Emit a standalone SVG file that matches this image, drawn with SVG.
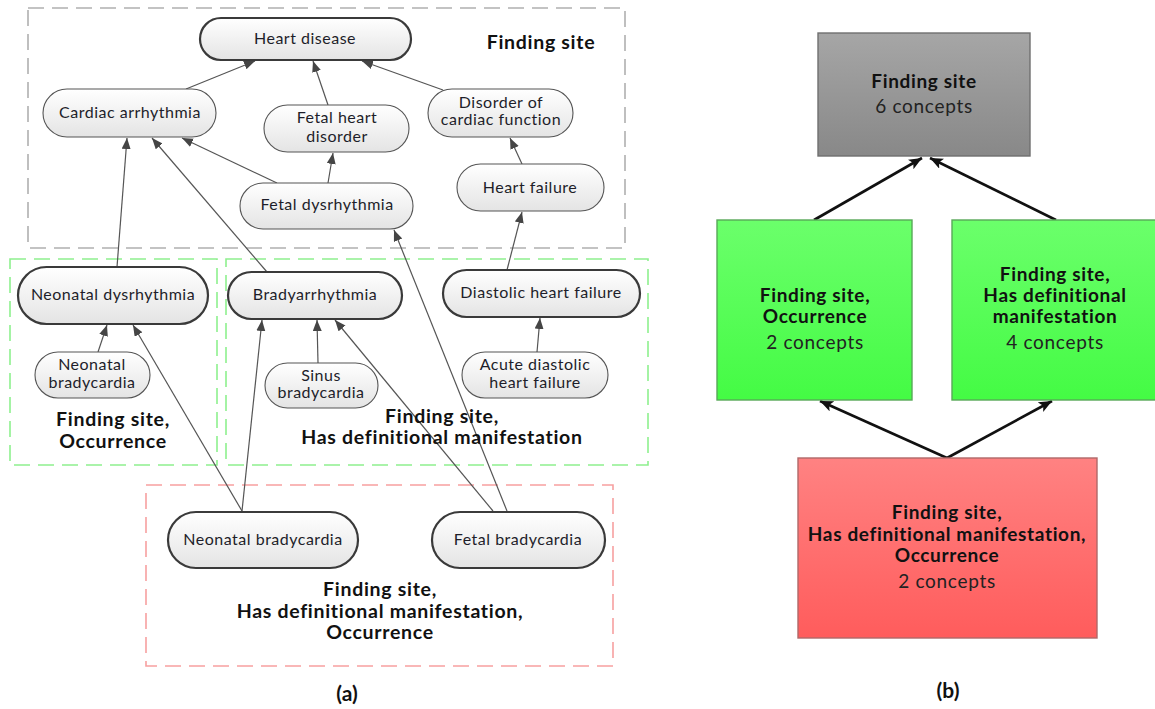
<svg xmlns="http://www.w3.org/2000/svg" width="1155" height="709" viewBox="0 0 1155 709">
  <defs>
    <linearGradient id="nodeFill" x1="0" y1="0" x2="0" y2="1">
      <stop offset="0" stop-color="#ffffff"/>
      <stop offset="1" stop-color="#e4e4e4"/>
    </linearGradient>
    <linearGradient id="grayFill" x1="0" y1="0" x2="0" y2="1">
      <stop offset="0" stop-color="#a6a6a6"/>
      <stop offset="1" stop-color="#888888"/>
    </linearGradient>
    <linearGradient id="greenFill" x1="0" y1="0" x2="0" y2="1">
      <stop offset="0" stop-color="#6bff6b"/>
      <stop offset="1" stop-color="#44fb44"/>
    </linearGradient>
    <linearGradient id="redFill" x1="0" y1="0" x2="0" y2="1">
      <stop offset="0" stop-color="#ff8282"/>
      <stop offset="1" stop-color="#ff5c5c"/>
    </linearGradient>
    <marker id="arrA" markerUnits="userSpaceOnUse" markerWidth="12" markerHeight="10" refX="11" refY="4.5" orient="auto">
      <path d="M0,0 L11,4.5 L0,9 z" fill="#454545"/>
    </marker>
    <marker id="arrB" markerUnits="userSpaceOnUse" markerWidth="14" markerHeight="12" refX="13" refY="5.5" orient="auto">
      <path d="M0,0 L13,5.5 L0,11 L3,5.5 z" fill="#111111"/>
    </marker>
    <style>
      .grp { fill: none; stroke-width: 1.6; stroke-dasharray: 16 8; }
      .gray { stroke: #b0b0b0; }
      .green { stroke: #8ef08e; }
      .red { stroke: #f7a0a0; }
      .node { fill: url(#nodeFill); stroke: #555555; stroke-width: 1.1; }
      .node.main { stroke: #3a3a3a; stroke-width: 2.2; }
      .lbl { font-family: Lato, "Liberation Sans", sans-serif; font-size: 16px; fill: #1e1e2a; text-anchor: middle; letter-spacing: 0.5px; }
      .grpTitle { font-family: Lato, "Liberation Sans", sans-serif; font-size: 19.5px; font-weight: bold; fill: #111111; text-anchor: middle; letter-spacing: 0.7px; }
      .edgeA { stroke: #555555; stroke-width: 1.2; fill: none; marker-end: url(#arrA); }
      .edgeB { stroke: #111111; stroke-width: 2.6; fill: none; marker-end: url(#arrB); }
      .box { stroke-width: 1.4; }
      .boxBold { font-family: Lato, "Liberation Sans", sans-serif; font-size: 19px; font-weight: bold; fill: #111111; text-anchor: middle; letter-spacing: 0.65px; }
      .boxNorm { font-family: Lato, "Liberation Sans", sans-serif; font-size: 19px; fill: #222222; text-anchor: middle; letter-spacing: 0.7px; }
      .caption { font-family: Lato, "Liberation Sans", sans-serif; font-size: 21px; font-weight: bold; fill: #111111; text-anchor: middle; }
    </style>
  </defs>

  <rect width="1155" height="709" fill="#ffffff"/>

  <!-- (a) group frames -->
  <g id="frames">
    <rect class="grp gray" x="28" y="8" width="597" height="240"/>
    <rect class="grp green" x="10" y="259" width="207" height="206"/>
    <rect class="grp green" x="226" y="259" width="422" height="206"/>
    <rect class="grp red" x="146" y="485" width="467" height="181"/>
  </g>

  <!-- (a) connectors -->
  <g id="connectors-a">
    <line class="edgeA" x1="186" y1="89" x2="255" y2="61"/>
    <line class="edgeA" x1="328" y1="105" x2="313" y2="61"/>
    <line class="edgeA" x1="443" y1="90" x2="362" y2="61"/>
    <line class="edgeA" x1="328" y1="183" x2="333" y2="153"/>
    <line class="edgeA" x1="277" y1="183" x2="182" y2="138"/>
    <line class="edgeA" x1="522" y1="164" x2="510" y2="138"/>
    <line class="edgeA" x1="507" y1="270" x2="522" y2="212"/>
    <line class="edgeA" x1="117" y1="267" x2="127" y2="138"/>
    <line class="edgeA" x1="267" y1="272" x2="152" y2="138"/>
    <line class="edgeA" x1="507" y1="511" x2="394" y2="230"/>
    <line class="edgeA" x1="98" y1="352" x2="107" y2="325"/>
    <line class="edgeA" x1="242" y1="511" x2="133" y2="325"/>
    <line class="edgeA" x1="242" y1="511" x2="262" y2="320"/>
    <line class="edgeA" x1="318" y1="363" x2="317" y2="320"/>
    <line class="edgeA" x1="493" y1="511" x2="335" y2="320"/>
    <line class="edgeA" x1="537" y1="352" x2="540" y2="318"/>
  </g>

  <!-- (a) nodes -->
  <g id="heart-disease">
    <rect class="node main" x="200" y="18" width="211" height="42" rx="21"/>
    <text class="lbl" x="305" y="44">Heart disease</text>
  </g>
  <g id="cardiac-arrhythmia">
    <rect class="node" x="43" y="89" width="173" height="48" rx="24"/>
    <text class="lbl" x="130" y="118">Cardiac arrhythmia</text>
  </g>
  <g id="fetal-heart-disorder">
    <rect class="node" x="264" y="105" width="145" height="47" rx="23.5"/>
    <text class="lbl" x="337" y="123">Fetal heart</text>
    <text class="lbl" x="337" y="142">disorder</text>
  </g>
  <g id="disorder-cardiac-function">
    <rect class="node" x="428" y="89" width="145" height="48" rx="24"/>
    <text class="lbl" x="501" y="108">Disorder of</text>
    <text class="lbl" x="501" y="125">cardiac function</text>
  </g>
  <g id="heart-failure">
    <rect class="node" x="457" y="164" width="147" height="47" rx="23.5"/>
    <text class="lbl" x="530" y="193">Heart failure</text>
  </g>
  <g id="fetal-dysrhythmia">
    <rect class="node" x="240" y="183" width="173" height="46" rx="23"/>
    <text class="lbl" x="327" y="210">Fetal dysrhythmia</text>
  </g>
  <g id="label-finding-site">
    <text class="grpTitle" x="541" y="49">Finding site</text>
  </g>

  <g id="neonatal-dysrhythmia">
    <rect class="node main" x="18" y="267" width="190" height="57" rx="28.5"/>
    <text class="lbl" x="113" y="300">Neonatal dysrhythmia</text>
  </g>
  <g id="neonatal-bradycardia-small">
    <rect class="node" x="35" y="352" width="115" height="46" rx="23"/>
    <text class="lbl" x="92" y="370">Neonatal</text>
    <text class="lbl" x="92" y="388">bradycardia</text>
  </g>
  <g id="label-fs-occ">
    <text class="grpTitle" x="113" y="426">Finding site,</text>
    <text class="grpTitle" x="113" y="448">Occurrence</text>
  </g>

  <g id="bradyarrhythmia">
    <rect class="node main" x="228" y="272" width="174" height="47" rx="23.5"/>
    <text class="lbl" x="315" y="300">Bradyarrhythmia</text>
  </g>
  <g id="sinus-bradycardia">
    <rect class="node" x="265" y="363" width="113" height="45" rx="22.5"/>
    <text class="lbl" x="321" y="381">Sinus</text>
    <text class="lbl" x="321" y="398">bradycardia</text>
  </g>
  <g id="diastolic-heart-failure">
    <rect class="node main" x="443" y="270" width="197" height="47" rx="23.5"/>
    <text class="lbl" x="541" y="298">Diastolic heart failure</text>
  </g>
  <g id="acute-diastolic-heart-failure">
    <rect class="node" x="462" y="352" width="146" height="46" rx="23"/>
    <text class="lbl" x="535" y="370">Acute diastolic</text>
    <text class="lbl" x="535" y="388">heart failure</text>
  </g>
  <g id="label-fs-hdm">
    <text class="grpTitle" x="442" y="423">Finding site,</text>
    <text class="grpTitle" x="442" y="444">Has definitional manifestation</text>
  </g>

  <g id="neonatal-bradycardia">
    <rect class="node main" x="168" y="512" width="190" height="56" rx="28"/>
    <text class="lbl" x="263" y="545">Neonatal bradycardia</text>
  </g>
  <g id="fetal-bradycardia">
    <rect class="node main" x="432" y="512" width="173" height="56" rx="28"/>
    <text class="lbl" x="518" y="545">Fetal bradycardia</text>
  </g>
  <g id="label-fs-hdm-occ">
    <text class="grpTitle" x="380" y="596">Finding site,</text>
    <text class="grpTitle" x="380" y="618">Has definitional manifestation,</text>
    <text class="grpTitle" x="380" y="639">Occurrence</text>
  </g>
  <text class="caption" x="347" y="701">(a)</text>

  <!-- (b) connectors -->
  <g id="connectors-b">
    <line class="edgeB" x1="814" y1="220" x2="922" y2="158"/>
    <line class="edgeB" x1="1056" y1="220" x2="930" y2="158"/>
    <line class="edgeB" x1="947" y1="458" x2="820" y2="401"/>
    <line class="edgeB" x1="947" y1="458" x2="1052" y2="401"/>
  </g>

  <!-- (b) nodes -->
  <g id="b-finding-site">
    <rect class="box" x="818" y="33" width="212" height="123" fill="url(#grayFill)" stroke="#707070"/>
    <text class="boxBold" x="924" y="88">Finding site</text>
    <text class="boxNorm" x="924" y="113">6 concepts</text>
  </g>
  <g id="b-fs-occ">
    <rect class="box" x="717" y="220" width="195" height="180" fill="url(#greenFill)" stroke="#58a858"/>
    <text class="boxBold" x="815" y="302">Finding site,</text>
    <text class="boxBold" x="815" y="323">Occurrence</text>
    <text class="boxNorm" x="815" y="349">2 concepts</text>
  </g>
  <g id="b-fs-hdm">
    <rect class="box" x="952" y="220" width="206" height="180" fill="url(#greenFill)" stroke="#58a858"/>
    <text class="boxBold" x="1055" y="281">Finding site,</text>
    <text class="boxBold" x="1055" y="302">Has definitional</text>
    <text class="boxBold" x="1055" y="323">manifestation</text>
    <text class="boxNorm" x="1055" y="349">4 concepts</text>
  </g>
  <g id="b-fs-hdm-occ">
    <rect class="box" x="798" y="458" width="299" height="180" fill="url(#redFill)" stroke="#b06868"/>
    <text class="boxBold" x="947" y="519">Finding site,</text>
    <text class="boxBold" x="947" y="541">Has definitional manifestation,</text>
    <text class="boxBold" x="947" y="562">Occurrence</text>
    <text class="boxNorm" x="947" y="588">2 concepts</text>
  </g>
  <text class="caption" x="948" y="698">(b)</text>
</svg>
